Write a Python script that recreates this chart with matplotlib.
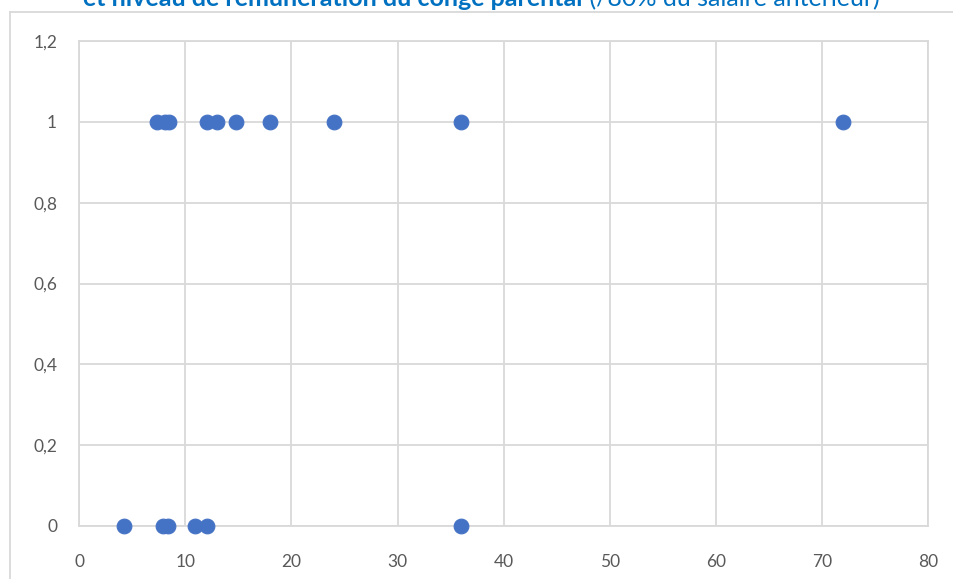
import matplotlib
matplotlib.use("Agg")
import matplotlib.pyplot as plt
from matplotlib.lines import Line2D
from matplotlib.ticker import FuncFormatter

# Durée du congé (x) et indicateur de rémunération >= 80 % (y)
duree_remunere = [7.3, 8.1, 8.5, 12, 13, 14.8, 18, 24, 36, 72]
niveau_remunere = [1] * len(duree_remunere)
duree_non_remunere = [4.2, 7.9, 8.4, 10.9, 12, 36]
niveau_non_remunere = [0] * len(duree_non_remunere)

x_ticks = [0, 10, 20, 30, 40, 50, 60, 70, 80]
y_ticks = [0, 0.2, 0.4, 0.6, 0.8, 1.0, 1.2]

titre_gras = "et niveau de rémunération du congé parental"
titre_normal = " (/80% du salaire antérieur)"

plt.rcParams["font.family"] = ["Lato", "DejaVu Sans"]

W, H = 954, 579
fig = plt.figure(figsize=(W / 100, H / 100), dpi=100)
ax = fig.add_axes([79.3 / W, 1 - 526 / H, (928 - 79.3) / W, (526 - 41) / H])

grid_col = "#D9D9D9"
point_col = "#4472C4"
text_col = "#595959"
title_col = "#0070C0"

xs = duree_remunere + duree_non_remunere
ys = niveau_remunere + niveau_non_remunere
ax.scatter(xs, ys, s=112, color=point_col, edgecolors=point_col,
           linewidths=0.8, zorder=3, clip_on=False)

ax.set_xlim(0, 80)
ax.set_ylim(0, 1.2)
ax.set_xticks(x_ticks)
ax.set_yticks(y_ticks)
ax.yaxis.set_major_formatter(FuncFormatter(
    lambda v, p: ("%g" % round(v, 1)).replace(".", ",")))
ax.xaxis.set_major_formatter(FuncFormatter(lambda v, p: "%g" % v))
ax.grid(True, color=grid_col, linewidth=1.3, zorder=0)
for s in ax.spines.values():
    s.set_color(grid_col)
    s.set_linewidth(1.3)
ax.tick_params(length=0, labelsize=12.5, labelcolor=text_col)
ax.tick_params(axis="x", pad=20)
ax.tick_params(axis="y", pad=16)

# Cadre extérieur du graphique
fig.add_artist(Line2D([10 / W, 10 / W], [0, 1 - 12 / H], color=grid_col,
                      linewidth=1.3, transform=fig.transFigure))
fig.add_artist(Line2D([10 / W, 1], [1 - 12 / H, 1 - 12 / H], color=grid_col,
                      linewidth=1.3, transform=fig.transFigure))

# Titre en deux parties (gras + normal), centré
fs = 18
ybase = 1 - 6 / H
t1 = fig.text(0, ybase, titre_gras, fontsize=fs, fontweight="bold",
              color=title_col, va="baseline", ha="left")
t2 = fig.text(0, ybase, titre_normal, fontsize=fs, color=title_col,
              va="baseline", ha="left")
fig.canvas.draw()
r = fig.canvas.get_renderer()
w1 = t1.get_window_extent(r).width
w2 = t2.get_window_extent(r).width
x0 = (481.5 - (w1 + w2) / 2) / W
t1.set_x(x0)
t2.set_x(x0 + w1 / W)

fig.savefig("out.png", dpi=100)
